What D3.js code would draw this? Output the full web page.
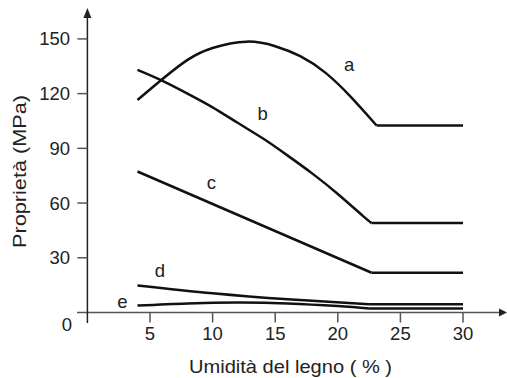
<!DOCTYPE html>
<html>
<head>
<meta charset="utf-8">
<script src="https://cdn.jsdelivr.net/npm/d3@7"></script>
<style>
  body { margin: 0; background: #fff; }
  svg text { font-family: "Liberation Sans", Arial, sans-serif; fill: #222; }
</style>
</head>
<body>
<svg width="507" height="378"></svg>
<script>
// umidità (%) e proprietà (MPa)
var xTicks = [5, 10, 15, 20, 25, 30];
var yTicks = [30, 60, 90, 120, 150];
var curveA = [[4,116.5],[6,128],[8,138.5],[10,145],[12.7,148.5],[15,146],[17,140.5],[19,131.5],[21,118.5],[23.1,102.5],[30,102.5]];
var curveB = [[4,133],[6,127],[8,120],[10,112.5],[12,104],[14,95.5],[16,86],[18,76],[20,65],[22,53],[22.7,49],[30,49]];
var curveC = [[4,77.3],[22.7,21.8],[30,21.8]];
var curveD = [[4,14.8],[10,10.5],[16,7.2],[22.5,4.5],[30,4.5]];
var curveE = [[4,3.8],[8,5],[12,5.5],[16,5],[20,3.5],[22.5,2.2],[30,2.2]];
var labels = ["a","b","c","d","e"];
var labelPos = [[20.9,136],[14,109],[9.9,71],[5.8,23],[2.8,6]];

var svg = d3.select("svg");
var x = d3.scaleLinear().domain([0,30]).range([87.4,463]);
var y = d3.scaleLinear().domain([0,150]).range([312.5,38.9]);

//assi
var axisColor = "#555";
svg.append("line").attr("x1",77).attr("x2",502).attr("y1",y(0)).attr("y2",y(0))
  .attr("stroke",axisColor).attr("stroke-width",1.5);
svg.append("path").attr("d","M507,"+y(0)+" L499,"+(y(0)-4)+" L499,"+(y(0)+4)+" Z").attr("fill","#222");
svg.append("line").attr("x1",x(0)).attr("x2",x(0)).attr("y1",323).attr("y2",16)
  .attr("stroke","#222").attr("stroke-width",1.5);
svg.append("path").attr("d","M"+x(0)+",8 L"+(x(0)-4)+",18 L"+(x(0)+4)+",18 Z").attr("fill","#222");

//tacche x
svg.selectAll(".xt").data(xTicks).enter().append("line")
  .attr("x1",d=>x(d)).attr("x2",d=>x(d)).attr("y1",y(0)).attr("y2",y(0)+10)
  .attr("stroke",axisColor).attr("stroke-width",1.5);
svg.selectAll(".xl").data(xTicks).enter().append("text")
  .attr("x",d=>x(d)).attr("y",y(0)+27).attr("text-anchor","middle")
  .attr("font-size",18.5).text(d=>d);

//tacche y
svg.selectAll(".yt").data(yTicks).enter().append("line")
  .attr("x1",x(0)-10).attr("x2",x(0)).attr("y1",d=>y(d)).attr("y2",d=>y(d))
  .attr("stroke",axisColor).attr("stroke-width",1.5);
svg.selectAll(".yl").data(yTicks).enter().append("text")
  .attr("x",70).attr("y",d=>y(d)).attr("dy","0.35em").attr("text-anchor","end")
  .attr("font-size",18.5).text(d=>d);
svg.append("text").attr("x",72).attr("y",325).attr("dy","0.35em").attr("text-anchor","end")
  .attr("font-size",18.5).text("0");

//titoli
svg.append("text").attr("x",290.5).attr("y",367).attr("dy","0.35em").attr("text-anchor","middle")
  .attr("font-size",18.5).attr("textLength",203).attr("lengthAdjust","spacingAndGlyphs")
  .text("Umidità del legno ( % )");
svg.append("text").attr("transform","translate(20,171.5) rotate(-90)").attr("dy","0.35em")
  .attr("text-anchor","middle").attr("font-size",17.5)
  .attr("textLength",153).attr("lengthAdjust","spacingAndGlyphs").text("Proprietà (MPa)");

//curve: parte curva fino al punto di saturazione, poi tratto piatto
var smooth = d3.line().x(d=>x(d[0])).y(d=>y(d[1])).curve(d3.curveNatural);
var straight = d3.line().x(d=>x(d[0])).y(d=>y(d[1]));
[curveA,curveB,curveC,curveD,curveE].forEach(function(c){
  var n = c.length;
  svg.append("path").attr("d",smooth(c.slice(0,n-1))).attr("fill","none")
    .attr("stroke","#111").attr("stroke-width",2.5);
  svg.append("path").attr("d",straight(c.slice(n-2))).attr("fill","none")
    .attr("stroke","#111").attr("stroke-width",2.5);
});

svg.selectAll(".lab").data(labels).enter().append("text")
  .attr("x",(d,i)=>x(labelPos[i][0])).attr("y",(d,i)=>y(labelPos[i][1]))
  .attr("dy","0.35em").attr("text-anchor","middle").attr("font-size",18.5).text(d=>d);
</script>
</body>
</html>
